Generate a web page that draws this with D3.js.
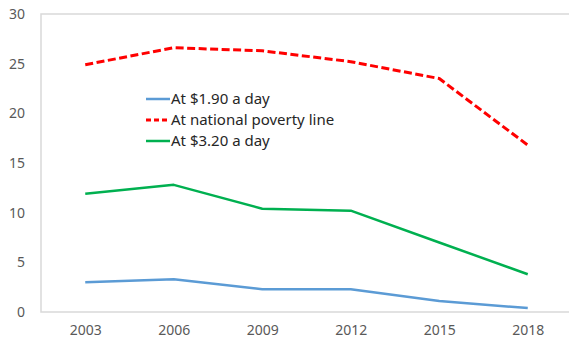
<!DOCTYPE html>
<html><head><meta charset="utf-8">
<script src="https://cdn.jsdelivr.net/npm/d3@7"></script>
<style>html,body{margin:0;padding:0;background:#fff;}svg{display:block;font-family:"Noto Sans",sans-serif;}</style>
</head><body>
<svg id="c" width="569" height="341"></svg>
<script>
const years = ["2003","2006","2009","2012","2015","2018"];
const yTicks = [0,5,10,15,20,25,30];
const at190 = [3.0, 3.3, 2.3, 2.3, 1.1, 0.4];
const national = [24.9, 26.6, 26.3, 25.2, 23.5, 16.8];
const at320 = [11.9, 12.8, 10.4, 10.2, 7.0, 3.8];
const seriesNames = ["At $1.90 a day","At national poverty line","At $3.20 a day"];
const seriesColors = ["#5B9BD5","#FF0000","#00B050"];
const seriesDash = [null,"8,3.5",null];
const seriesData = [at190, national, at320];

const svg = d3.select("#c");
const L=41, R=572, T=14, B=312;
const x = d3.scalePoint().domain(years).range([L,R]).padding(0.5);
const y = d3.scaleLinear().domain([0,30]).range([B,T]);

// plot border
svg.append("rect").attr("x",L).attr("y",T).attr("width",R-L).attr("height",B-T)
  .attr("fill","none").attr("stroke","#D9D9D9").attr("stroke-width",1.5);

// y axis labels
const ya = svg.append("g").attr("transform",`translate(${L},0)`)
  .call(d3.axisLeft(y).tickValues(yTicks).tickSize(0).tickPadding(16));
ya.select(".domain").remove();
ya.selectAll("text").attr("fill","#595959").style("font-size","14px").style("font-family","'Noto Sans',sans-serif");

const xa = svg.append("g").attr("transform",`translate(0,${B})`)
  .call(d3.axisBottom(x).tickSize(0).tickPadding(13));
xa.select(".domain").remove();
xa.selectAll("text").attr("fill","#595959").style("font-size","14px").style("font-family","'Noto Sans',sans-serif");

const line = d3.line().x((d,i)=>x(years[i])).y(d=>y(d));
seriesData.forEach((s,k)=>{
  svg.append("path").datum(s).attr("d",line).attr("fill","none")
    .attr("stroke",seriesColors[k]).attr("stroke-width",k===1?3:2.5)
    .attr("stroke-dasharray",seriesDash[k]).attr("stroke-linejoin","round");
});

// legend
const lg = svg.append("g");
[0,1,2].forEach(k=>{
  const ly = 99 + k*21;
  lg.append("line").attr("x1",146).attr("x2",170).attr("y1",ly).attr("y2",ly)
    .attr("stroke",seriesColors[k]).attr("stroke-width",k===1?3:2.5)
    .attr("stroke-dasharray",k===1?"5,3":null);
  lg.append("text").attr("x",171).attr("y",ly).attr("dy","0.35em")
    .attr("fill","#262626").style("font-size","15px").text(seriesNames[k]);
});
</script>
</body></html>
